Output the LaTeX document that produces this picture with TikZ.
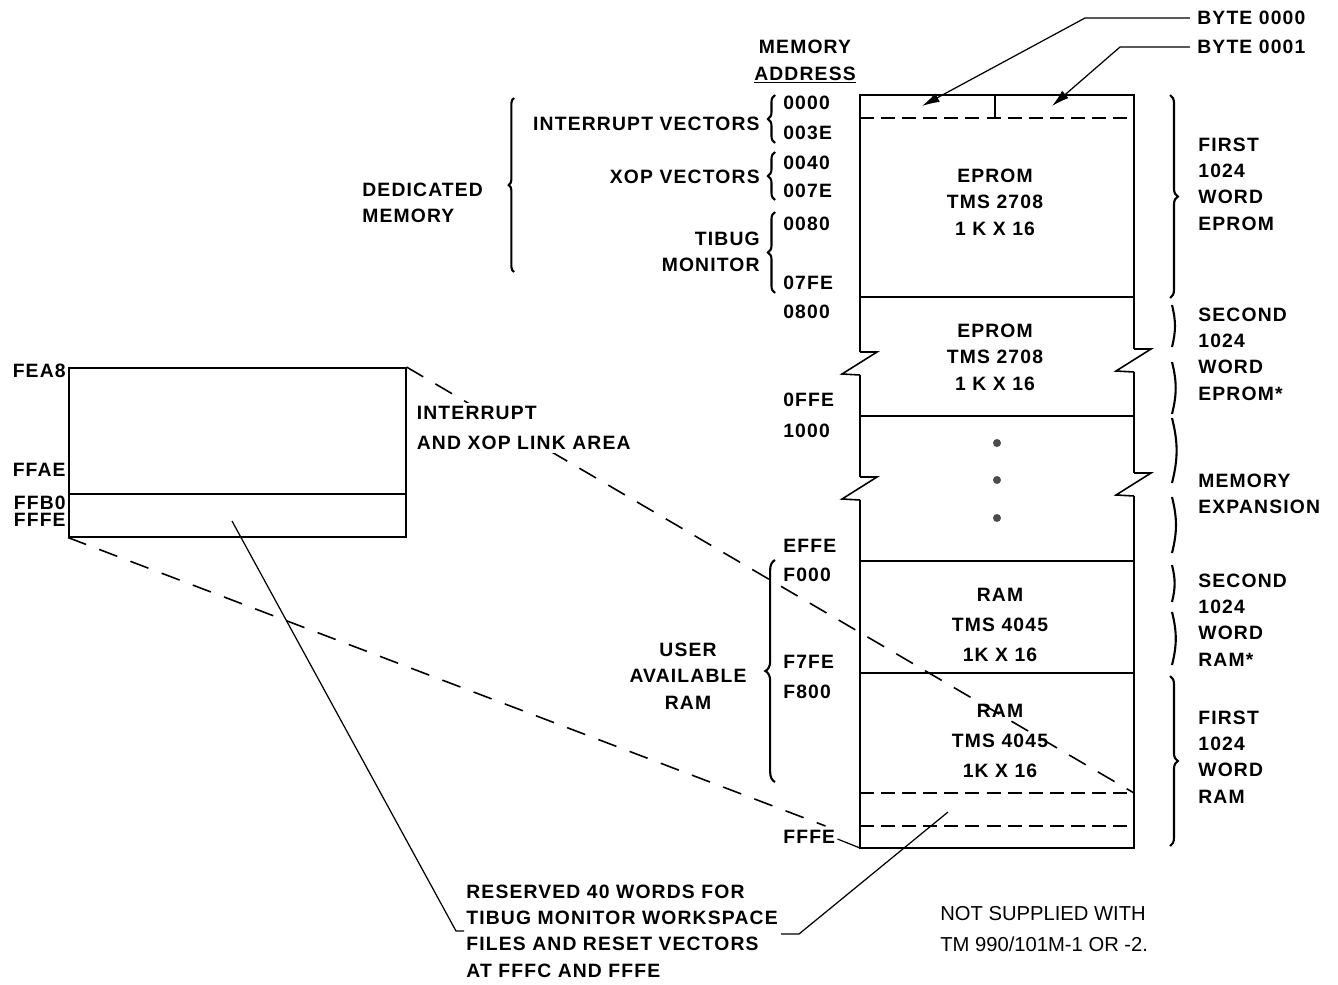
\documentclass[tikz,border=0pt]{standalone}
\usepackage{fontspec}
\setmainfont{Liberation Sans}[LetterSpace=6]
\newfontfamily\notefont{Liberation Sans}
\usetikzlibrary{arrows.meta, decorations.pathreplacing, calc}

\begin{document}
\begin{tikzpicture}[
  x=0.02cm, y=-0.02cm,
  >={Latex[length=10pt,width=5.5pt]},
  every node/.style = {inner sep=0pt, font=\fontsize{11}{15}\selectfont\bfseries},
  %-- text styles --------------------------------------------------------
  addr/.style     = {anchor=west},
  sidelab/.style  = {anchor=west, align=left},
  chiplab/.style  = {align=center},
  %-- line styles --------------------------------------------------------
  frame/.style    = {line width=0.9pt},
  cutline/.style  = {line width=0.9pt, dash pattern=on 8pt off 4pt},
  zoomline/.style = {line width=0.9pt, dash pattern=on 11pt off 8pt},
  leader/.style   = {line width=0.7pt},
  lbrace/.style   = {decorate, decoration={brace, amplitude=#1}, line width=1.2pt},
  halfbrace/.style= {line width=1.2pt, bend left=14},
  zbreak/.pic     = {\draw[frame] (0,0) -- (17,0) -- (-18,22) -- (0,23);},
]
\useasboundingbox (0,0) rectangle (1338,984);

% ── memory column ────────────────────────────────────────────────────────
\draw[frame] (860,352) |- (1134,95) -- (1134,349);
\draw[frame] (860,375) -- (860,477);
\draw[frame] (1134,372) -- (1134,473);
\draw[frame] (860,500) |- (1134,848) -- (1134,496);
\pic at (860,352) {zbreak};
\pic at (1134,349) {zbreak};
\pic at (860,477) {zbreak};
\pic at (1134,473) {zbreak};

\foreach \y in {297,416,561,673}
  \draw[frame] (860,\y) -- (1134,\y);
\foreach \y in {118,793,826}
  \draw[cutline] (860,\y) -- (1134,\y);
\draw[frame] (995,95) -- (995,118);

% ── block contents ───────────────────────────────────────────────────────
\node[chiplab] (rom1) at (995,202) {EPROM\\TMS 2708\\1 K X 16};
\node[chiplab] (rom2) at (995,357) {EPROM\\TMS 2708\\1 K X 16};
\foreach \y [count=\i] in {443,480,518}
  \fill[black!70] (997,\y) circle (4) coordinate (dot\i);
\node[chiplab] (ram2) at (1000,625) {RAM\\[2pt]TMS 4045\\[2pt]1K X 16};
\node[chiplab] (ram1) at (1000,741) {RAM\\[2pt]TMS 4045\\[2pt]1K X 16};

% ── addresses ────────────────────────────────────────────────────────────
\node[align=center] (memhd) at (805,62) {MEMORY\\\underline{ADDRESS}};
\foreach \a/\y in {0000/103, 003E/133, 0040/163, 007E/191, 0080/224,
                   07FE/283, 0800/312, 0FFE/400, 1000/431, EFFE/546,
                   F000/575, F7FE/662, F800/692, FFFE/837}
  \node[addr] (ad\a) at (783,\y) {\a};
\draw[leader] ($(adFFFE.east)+(2,2)$) -- (860,848);

% ── byte pointers ────────────────────────────────────────────────────────
\node[anchor=west] (byteA) at (1197,18) {BYTE 0000};
\node[anchor=west] (byteB) at (1197,47) {BYTE 0001};
\draw[leader, ->, shorten <=4pt] (byteA.west) -- (1085,18) -- (922,106);
\draw[leader, ->, shorten <=4pt] (byteB.west) -- (1120,47) -- (1052,106);

% ── left groupings ───────────────────────────────────────────────────────
\node[anchor=east] (intvec) at (760,124) {INTERRUPT VECTORS};
\node[anchor=east] (xopvec) at (760,177) {XOP VECTORS};
\node[anchor=east, align=right] (tibug) at (760,252) {TIBUG\\MONITOR};
\node[anchor=west, align=left] (dedic) at (362,203) {DEDICATED\\MEMORY};
\node[align=center] (user) at (688,676) {USER\\AVAILABLE\\RAM};

\draw[lbrace=4pt] (775,143) -- (775,95);
\draw[lbrace=4pt] (775,200) -- (775,152);
\draw[lbrace=4pt] (775,293) -- (775,212);
\draw[lbrace=3pt] (514,272) -- (514,98);
\draw[lbrace=5.5pt] (775,782) -- (775,560);

% ── right groupings ──────────────────────────────────────────────────────
\node[sidelab] (frstrom) at (1198,184) {FIRST\\1024\\WORD\\EPROM};
\node[sidelab] (scndrom) at (1198,354) {SECOND\\1024\\WORD\\EPROM*};
\node[sidelab] (memexp)  at (1198,494) {MEMORY\\EXPANSION};
\node[sidelab] (scndram) at (1198,620) {SECOND\\1024\\WORD\\RAM*};
\node[sidelab] (frstram) at (1198,757) {FIRST\\1024\\WORD\\RAM};

\draw[lbrace=4.5pt] (1170,95) -- (1170,298);
\draw[lbrace=4.5pt] (1170,676) -- (1170,846);
\draw[halfbrace] (1172,305) to (1172,347);
\draw[halfbrace] (1172,362) to (1172,414);
\draw[halfbrace] (1172,418) to (1172,483);
\draw[halfbrace] (1172,497) to (1172,553);
\draw[halfbrace] (1172,565) to (1172,602);
\draw[halfbrace] (1172,612) to (1172,665);

% ── link area inset ──────────────────────────────────────────────────────
\node[draw, frame, anchor=north west, minimum width=6.74cm,
      minimum height=3.38cm] (inset) at (68,367) {};
\coordinate (ffb) at (0,494);
\draw[frame] (inset.west |- ffb) -- (inset.east |- ffb);
\node[anchor=east] (inFEA8) at (66,371) {FEA8};
\node[anchor=east] (inFFAE) at (66,470) {FFAE};
\node[anchor=east] (inFFB0) at (66,503) {FFB0};
\node[anchor=east] (inFFFE) at (66,520) {FFFE};

\draw[zoomline] (inset.north east) -- (1134,793);
\draw[zoomline] (inset.south west) -- ($(adFFFE.north east)+(-10,-4)$);

\node[anchor=west, align=left, fill=white, inner sep=2pt] (link) at (413,428)
  {INTERRUPT\\[2pt]AND XOP LINK AREA};

% ── reserved words note ──────────────────────────────────────────────────
\node[anchor=west, align=left] (res) at (466,931)
  {RESERVED 40 WORDS FOR\\TIBUG MONITOR WORKSPACE\\FILES AND RESET VECTORS\\AT FFFC AND FFFE};
\coordinate (wsp) at (232,521);
\coordinate (rsv) at (948,812);
\draw[leader] (wsp) -- ($(res.west)+(-10,0)$) -- ($(res.west)+(-2,0)$);
\draw[leader] ($(res.east)+(3,3)$) -- ++(18,0) -- (rsv);

\node[anchor=west, align=left, font=\notefont\fontsize{11.5}{18}\selectfont] (note) at (940,929)
  {NOT SUPPLIED WITH\\TM 990/101M-1 OR -2.};

\end{tikzpicture}
\end{document}
